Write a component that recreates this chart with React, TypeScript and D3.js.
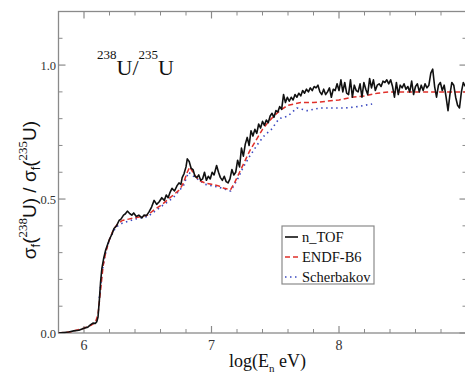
import React from "react";
import * as d3 from "d3";

const nTOF: [number, number][] = [
  [5.80,0.000],[5.84,0.002],[5.88,0.004],[5.92,0.008],[5.96,0.010],[6.00,0.018],[6.03,0.022],[6.05,0.030],[6.07,0.037],[6.09,0.036],[6.10,0.042],[6.11,0.060],[6.12,0.120],[6.13,0.190],[6.14,0.240],[6.155,0.280],[6.17,0.310],[6.185,0.330],[6.20,0.350],[6.22,0.370],[6.235,0.390],[6.255,0.400],[6.275,0.420],[6.29,0.425],[6.31,0.440],[6.325,0.445],[6.34,0.455],[6.36,0.445],[6.375,0.440],[6.39,0.448],[6.41,0.435],[6.43,0.440],[6.455,0.430],[6.47,0.440],[6.49,0.438],[6.51,0.452],[6.53,0.470],[6.55,0.495],[6.57,0.480],[6.59,0.490],[6.61,0.505],[6.63,0.495],[6.645,0.515],[6.66,0.505],[6.675,0.525],[6.69,0.540],[6.71,0.530],[6.73,0.550],[6.745,0.560],[6.76,0.555],[6.77,0.580],[6.785,0.595],[6.80,0.620],[6.81,0.650],[6.825,0.640],[6.84,0.615],[6.855,0.610],[6.87,0.585],[6.885,0.580],[6.90,0.590],[6.915,0.570],[6.93,0.575],[6.945,0.600],[6.96,0.570],[6.975,0.585],[6.99,0.575],[7.005,0.600],[7.02,0.590],[7.04,0.625],[7.055,0.600],[7.07,0.580],[7.085,0.570],[7.10,0.585],[7.115,0.565],[7.13,0.560],[7.145,0.575],[7.16,0.610],[7.175,0.590],[7.19,0.600],[7.205,0.645],[7.22,0.620],[7.235,0.690],[7.25,0.660],[7.265,0.705],[7.28,0.730],[7.295,0.700],[7.31,0.755],[7.325,0.735],[7.34,0.760],[7.355,0.745],[7.37,0.780],[7.385,0.765],[7.40,0.790],[7.415,0.775],[7.43,0.795],[7.445,0.785],[7.46,0.810],[7.475,0.820],[7.49,0.805],[7.505,0.830],[7.52,0.825],[7.535,0.845],[7.55,0.835],[7.565,0.890],[7.58,0.860],[7.595,0.880],[7.61,0.865],[7.625,0.880],[7.64,0.870],[7.655,0.890],[7.67,0.880],[7.685,0.895],[7.70,0.885],[7.715,0.905],[7.73,0.895],[7.745,0.910],[7.76,0.900],[7.775,0.915],[7.79,0.905],[7.805,0.920],[7.82,0.915],[7.835,0.925],[7.85,0.900],[7.865,0.890],[7.88,0.910],[7.895,0.890],[7.91,0.900],[7.925,0.915],[7.94,0.880],[7.955,0.910],[7.97,0.905],[7.985,0.930],[8.00,0.905],[8.015,0.945],[8.03,0.900],[8.045,0.935],[8.06,0.895],[8.075,0.890],[8.09,0.945],[8.105,0.880],[8.12,0.925],[8.135,0.905],[8.15,0.900],[8.165,0.930],[8.18,0.880],[8.195,0.935],[8.21,0.910],[8.225,0.890],[8.24,0.950],[8.255,0.915],[8.27,0.945],[8.285,0.905],[8.30,0.925],[8.315,0.930],[8.33,0.920],[8.345,0.940],[8.36,0.935],[8.375,0.945],[8.39,0.930],[8.405,0.945],[8.42,0.920],[8.435,0.880],[8.45,0.935],[8.465,0.890],[8.48,0.925],[8.495,0.915],[8.51,0.930],[8.525,0.910],[8.54,0.920],[8.555,0.900],[8.57,0.940],[8.585,0.890],[8.60,0.920],[8.615,0.930],[8.63,0.900],[8.645,0.925],[8.66,0.905],[8.675,0.930],[8.69,0.915],[8.705,0.925],[8.72,0.970],[8.735,0.985],[8.75,0.920],[8.765,0.880],[8.78,0.925],[8.795,0.935],[8.81,0.905],[8.825,0.925],[8.84,0.880],[8.855,0.830],[8.87,0.890],[8.885,0.935],[8.90,0.925],[8.915,0.880],[8.93,0.850],[8.945,0.840],[8.96,0.900],[8.975,0.935],[8.99,0.920]
];

const endfB6: [number, number][] = [
  [5.80,0.000],[5.90,0.005],[6.00,0.018],[6.06,0.030],[6.09,0.040],[6.11,0.070],[6.13,0.160],[6.15,0.250],[6.17,0.300],[6.20,0.350],[6.23,0.385],[6.26,0.405],[6.30,0.420],[6.35,0.425],[6.40,0.430],[6.45,0.435],[6.50,0.440],[6.55,0.460],[6.60,0.475],[6.65,0.495],[6.70,0.515],[6.75,0.535],[6.78,0.560],[6.81,0.600],[6.83,0.620],[6.86,0.595],[6.90,0.570],[6.95,0.560],[7.00,0.555],[7.05,0.550],[7.10,0.540],[7.15,0.535],[7.18,0.560],[7.22,0.600],[7.26,0.640],[7.30,0.680],[7.35,0.720],[7.40,0.760],[7.45,0.790],[7.50,0.815],[7.55,0.835],[7.60,0.850],[7.65,0.855],[7.70,0.860],[7.80,0.860],[7.90,0.865],[8.00,0.870],[8.10,0.880],[8.20,0.885],[8.30,0.895],[8.40,0.900],[8.50,0.900],[8.70,0.900],[9.00,0.900]
];

const scherbakov: [number, number][] = [
  [6.12,0.130],[6.14,0.220],[6.16,0.280],[6.18,0.320],[6.21,0.360],[6.25,0.395],[6.30,0.410],[6.40,0.425],[6.50,0.435],[6.60,0.470],[6.70,0.505],[6.78,0.550],[6.82,0.600],[6.86,0.585],[6.95,0.555],[7.05,0.545],[7.15,0.530],[7.20,0.570],[7.25,0.620],[7.30,0.660],[7.37,0.710],[7.42,0.740],[7.47,0.760],[7.53,0.800],[7.60,0.810],[7.67,0.840],[7.75,0.830],[7.85,0.840],[7.95,0.840],[8.05,0.840],[8.15,0.845],[8.26,0.855]
];

const xMajorTicks = [6, 7, 8];
const yMajorTicks = [0, 0.5, 1.0];
const yTickLabels = ["0.0", "0.5", "1.0"];
const legendLabels = ["n_TOF", "ENDF-B6", "Scherbakov"];

const W = 465, H = 376;
const x = d3.scaleLinear().domain([5.8, 9.0]).range([58.5, 466.5]);
const y = d3.scaleLinear().domain([0, 1.2]).range([333, 11.5]);
const line = d3.line<[number, number]>().x(d => x(d[0])).y(d => y(d[1]));

const AX = "#8a8a8a";
const SERIF: React.CSSProperties = { fontFamily: "'Liberation Serif', 'Times New Roman', Times, 'Noto Serif', 'DejaVu Serif', serif" };
const SANS: React.CSSProperties = { fontFamily: "'Liberation Sans', Arial, sans-serif" };

export default function App() {
  const xMinor = d3.range(0, 17).map(i => 5.8 + i * 0.2).filter(v => !xMajorTicks.some(m => Math.abs(m - v) < 1e-6));
  const yMinor = d3.range(0, 13).map(i => i * 0.1).filter(v => !yMajorTicks.some(m => Math.abs(m - v) < 1e-6));
  const [x0, x1] = x.range();
  const [y0, y1] = y.range();
  const series = [
    { data: nTOF, color: "#111", dash: undefined, w: 1.6 },
    { data: endfB6, color: "#e0302a", dash: "5,3", w: 1.5 },
    { data: scherbakov, color: "#3a48c0", dash: "1.5,3.5", w: 1.6 },
  ];
  return (
    <svg width={W} height={H} style={{ position: "absolute", left: 0, top: 0, background: "#fff" }}>
      <rect x={0} y={0} width={W} height={H} fill="#fff" />
      <defs>
        <clipPath id="plot"><rect x={x0} y={y1} width={x1 - x0} height={y0 - y1} /></clipPath>
      </defs>
      <rect x={x0} y={y1} width={x1 - x0} height={y0 - y1} fill="none" stroke={AX} strokeWidth={1.3} />
      {xMajorTicks.map(v => (
        <g key={"xm" + v}>
          <line x1={x(v)} x2={x(v)} y1={y0} y2={y0 - 7} stroke={AX} strokeWidth={1.2} />
          <line x1={x(v)} x2={x(v)} y1={y1} y2={y1 + 7} stroke={AX} strokeWidth={1.2} />
          <text x={x(v)} y={350} textAnchor="middle" style={SERIF} fontSize={14} fill="#333">{v}</text>
        </g>
      ))}
      {xMinor.map(v => (
        <g key={"xn" + v}>
          <line x1={x(v)} x2={x(v)} y1={y0} y2={y0 - 4} stroke={AX} strokeWidth={1} />
          <line x1={x(v)} x2={x(v)} y1={y1} y2={y1 + 4} stroke={AX} strokeWidth={1} />
        </g>
      ))}
      {yMajorTicks.map((v, i) => (
        <g key={"ym" + v}>
          <line x1={x0} x2={x0 + 7} y1={y(v)} y2={y(v)} stroke={AX} strokeWidth={1.2} />
          <line x1={x1} x2={x1 - 7} y1={y(v)} y2={y(v)} stroke={AX} strokeWidth={1.2} />
          <text x={56} y={y(v) + 4.5} textAnchor="end" style={SERIF} fontSize={12.5} fill="#333">{yTickLabels[i]}</text>
        </g>
      ))}
      {yMinor.map(v => (
        <g key={"yn" + v}>
          <line x1={x0} x2={x0 + 4} y1={y(v)} y2={y(v)} stroke={AX} strokeWidth={1} />
          <line x1={x1} x2={x1 - 4} y1={y(v)} y2={y(v)} stroke={AX} strokeWidth={1} />
        </g>
      ))}
      <g clipPath="url(#plot)">
        {series.slice().reverse().map((s, i) => (
          <path key={i} d={line(s.data) || ""} fill="none" stroke={s.color} strokeWidth={s.w} strokeDasharray={s.dash} strokeLinejoin="round" />
        ))}
      </g>
      <text x={97} y={75} style={SERIF} fontSize={22} fill="#111">
        <tspan fontSize={13} dy={-16}>238</tspan>
        <tspan dy={16}>U/</tspan>
        <tspan fontSize={13} dy={-16}>235</tspan>
        <tspan dy={16}>U</tspan>
      </text>
      <text x={229} y={367} style={SERIF} fontSize={18} fill="#111">
        log(E<tspan fontSize={11} dy={5}>n</tspan><tspan dy={-5}> eV)</tspan>
      </text>
      <text transform="translate(36,190) rotate(-90)" textAnchor="middle" style={SANS} fontSize={19} fill="#111">
        σ<tspan fontSize={13} dy={4}>f</tspan><tspan dy={-4}>(</tspan><tspan style={SERIF} fontSize={13} dy={-9}>238</tspan><tspan dy={9}>U) / σ</tspan><tspan fontSize={13} dy={4}>f</tspan><tspan dy={-4}>(</tspan><tspan style={SERIF} fontSize={13} dy={-9}>235</tspan><tspan dy={9}>U)</tspan>
      </text>
      <rect x={282} y={226} width={92} height={58} fill="#fff" stroke={AX} strokeWidth={1.2} />
      {series.map((s, i) => (
        <g key={"lg" + i}>
          <line x1={285} x2={298} y1={237 + i * 20} y2={237 + i * 20} stroke={s.color} strokeWidth={s.w} strokeDasharray={s.dash} />
          <text x={302} y={242 + i * 20} style={SERIF} fontSize={14.5} fill="#111">{legendLabels[i]}</text>
        </g>
      ))}
    </svg>
  );
}
